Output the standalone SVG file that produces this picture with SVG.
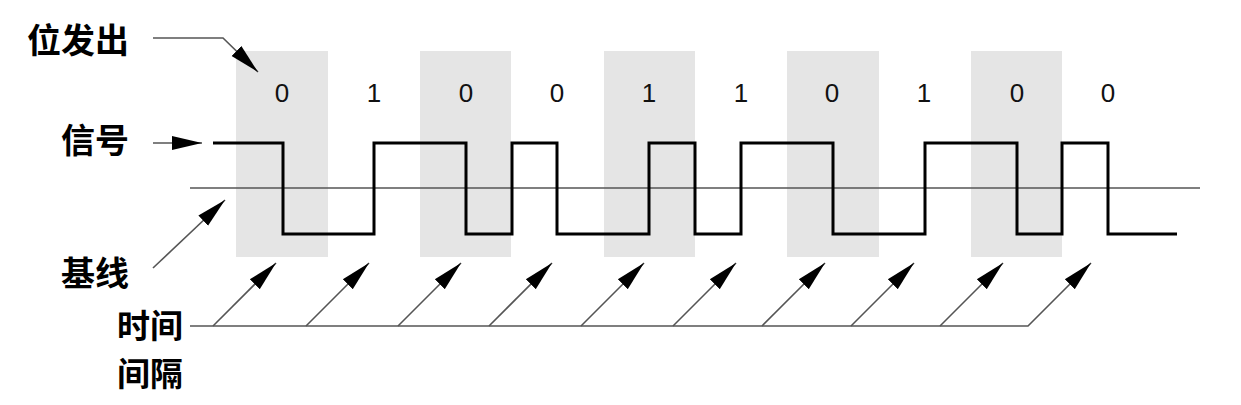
<svg xmlns="http://www.w3.org/2000/svg" width="1241" height="405" viewBox="0 0 1241 405">
<style>
.band{fill:#e5e5e5}
.thin{stroke:#555;stroke-width:1.6;fill:none}
.sig{stroke:#000;stroke-width:3;fill:none;stroke-linejoin:miter}
.lbl{font-family:"Noto Sans CJK SC","Noto Sans",sans-serif;font-weight:bold;font-size:34px;fill:#000;text-anchor:end}
.lbl2{font-size:33px}
.bit{font-family:"Liberation Sans",Arial,sans-serif;font-size:26px;fill:#111;text-anchor:middle}
</style>
<defs>
<marker id="ah" markerUnits="userSpaceOnUse" markerWidth="32" markerHeight="16" refX="30" refY="8" orient="auto" viewBox="0 0 32 16">
<path d="M30,8 L0,1 L0,15 Z" fill="#000"/>
</marker>
</defs>
<rect width="1241" height="405" fill="#fff"/>
<g id="bands">
<rect class="band" x="236" y="51" width="92" height="206"/>
<rect class="band" x="420" y="51" width="91" height="206"/>
<rect class="band" x="604" y="51" width="91" height="206"/>
<rect class="band" x="787" y="51" width="92" height="206"/>
<rect class="band" x="971" y="51" width="91" height="206"/>
</g>
<g id="bits">
<text class="bit" x="282" y="102">0</text>
<text class="bit" x="374" y="102">1</text>
<text class="bit" x="466" y="102">0</text>
<text class="bit" x="557" y="102">0</text>
<text class="bit" x="649" y="102">1</text>
<text class="bit" x="741" y="102">1</text>
<text class="bit" x="832" y="102">0</text>
<text class="bit" x="924" y="102">1</text>
<text class="bit" x="1017" y="102">0</text>
<text class="bit" x="1108" y="102">0</text>
</g>
<g id="baseline">
<line class="thin" x1="190" y1="188" x2="1200" y2="188"/>
</g>
<g id="signal">
<path class="sig" d="M213,143 H283 V234 H374 V143 H466 V234 H512 V143 H557 V234 H649 V143 H695 V234 H741 V143 H833 V234 H925 V143 H1017 V234 H1062 V143 H1108 V234 H1177"/>
</g>
<g id="labels">
<text class="lbl" x="129" y="53">位发出</text>
<text class="lbl" x="129" y="153">信号</text>
<text class="lbl" x="129" y="286">基线</text>
<text class="lbl lbl2" x="183" y="338">时间</text>
<text class="lbl lbl2" x="183" y="386">间隔</text>
</g>
<g id="connectors">
<polyline class="thin" points="153,38 223,38 258,72" marker-end="url(#ah)"/>
<line class="thin" x1="153" y1="143" x2="202" y2="143" marker-end="url(#ah)"/>
<line class="thin" x1="153" y1="268" x2="225" y2="200" marker-end="url(#ah)"/>
<polyline class="thin" points="190,326 1028,326 1091,263" marker-end="url(#ah)"/>
<line class="thin" x1="213" y1="326" x2="276" y2="263" marker-end="url(#ah)"/>
<line class="thin" x1="306" y1="326" x2="369" y2="263" marker-end="url(#ah)"/>
<line class="thin" x1="398" y1="326" x2="461" y2="263" marker-end="url(#ah)"/>
<line class="thin" x1="489" y1="326" x2="552" y2="263" marker-end="url(#ah)"/>
<line class="thin" x1="581" y1="326" x2="644" y2="263" marker-end="url(#ah)"/>
<line class="thin" x1="673" y1="326" x2="736" y2="263" marker-end="url(#ah)"/>
<line class="thin" x1="762" y1="326" x2="825" y2="263" marker-end="url(#ah)"/>
<line class="thin" x1="851" y1="326" x2="914" y2="263" marker-end="url(#ah)"/>
<line class="thin" x1="940" y1="326" x2="1003" y2="263" marker-end="url(#ah)"/>
</g>
</svg>
